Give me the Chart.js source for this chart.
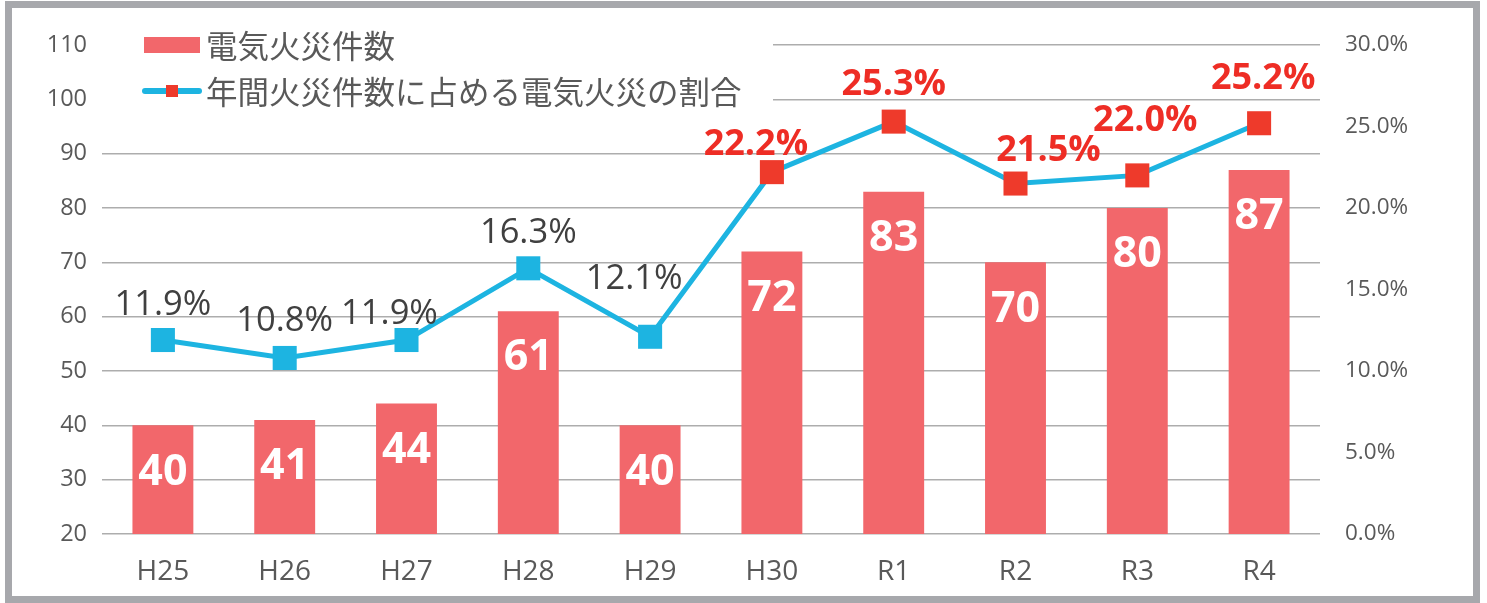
<!DOCTYPE html>
<html>
<head>
<meta charset="utf-8">
<script src="https://cdn.jsdelivr.net/npm/chart.js@4/dist/chart.umd.min.js"></script>
<style>
  html, body { margin: 0; padding: 0; background: #fff; }
  #frame { position: absolute; left: 5px; top: 1px; width: 1475px; height: 602px; border: 7px solid #A7A8AC; box-sizing: border-box; }
  #wrap { position: absolute; left: 0; top: 0; width: 1487px; height: 603px; }
</style>
</head>
<body>
<div id="frame"></div>
<div id="wrap"><canvas id="c" width="1487" height="603"></canvas></div>
<script>
const categories = ['H25', 'H26', 'H27', 'H28', 'H29', 'H30', 'R1', 'R2', 'R3', 'R4'];
const fireCounts = [40, 41, 44, 61, 40, 72, 83, 70, 80, 87];
const fireShare = [11.9, 10.8, 11.9, 16.3, 12.1, 22.2, 25.3, 21.5, 22.0, 25.2];
const barLabel = '電気火災件数';
const lineLabel = '年間火災件数に占める電気火災の割合';

const BAR_COLOR = '#F2676B';
const LINE_COLOR = '#1DB4E1';
const RED = '#EE3A2B';
const RED_TEXT = '#EE2D25';
const GREY_TEXT = '#595959';
const LATIN = '"Open Sans", "Noto Sans", sans-serif';
const CJK = '"Noto Sans CJK JP", "Noto Sans", sans-serif';
const highlightFrom = 5;
const pointColors = fireShare.map((v, i) => i >= highlightFrom ? RED : LINE_COLOR);
// label nudges relative to each point (style only)
const shareLabelNudge = [[0,-35],[0,-37],[-17,-26],[0,-35],[-16,-58],[-16,-27],[0,-37],[33,-33],[8,-55],[4,-44]];

const labelPlugin = {
  id: 'labels',
  afterDatasetsDraw(chart) {
    const ctx = chart.ctx;
    ctx.save();
    const barMeta = chart.getDatasetMeta(1);
    ctx.fillStyle = '#FFFFFF';
    ctx.font = 'bold 43px ' + LATIN;
    ctx.textAlign = 'center';
    ctx.textBaseline = 'middle';
    barMeta.data.forEach((el, i) => {
      ctx.fillText(String(fireCounts[i]), el.x, el.y + 47);
    });
    const lineMeta = chart.getDatasetMeta(0);
    lineMeta.data.forEach((el, i) => {
      const hl = i >= highlightFrom;
      ctx.fillStyle = hl ? RED_TEXT : '#404040';
      ctx.font = (hl ? 'bold 36px ' : '34.5px ') + LATIN;
      const n = shareLabelNudge[i];
      ctx.fillText(fireShare[i].toFixed(1) + '%', el.x + n[0], el.y + n[1]);
    });
    ctx.restore();
  },
  afterDraw(chart) {
    const ctx = chart.ctx;
    ctx.save();
    const a = chart.chartArea;
    ctx.fillStyle = '#FFFFFF';
    ctx.fillRect(a.left - 2, 22, 773 - a.left + 2, 92);
    ctx.fillStyle = BAR_COLOR;
    ctx.fillRect(144, 37, 56, 16);
    ctx.fillStyle = GREY_TEXT;
    ctx.font = '31.5px ' + CJK;
    ctx.textAlign = 'left';
    ctx.textBaseline = 'middle';
    ctx.fillText(chart.data.datasets[1].label, 206, 46);
    ctx.strokeStyle = LINE_COLOR;
    ctx.lineWidth = 6;
    ctx.lineCap = 'round';
    ctx.beginPath();
    ctx.moveTo(145, 91);
    ctx.lineTo(199, 91);
    ctx.stroke();
    ctx.fillStyle = RED;
    ctx.fillRect(166, 85, 12, 12);
    ctx.fillStyle = GREY_TEXT;
    ctx.fillText(chart.data.datasets[0].label, 206, 92);
    ctx.restore();
  }
};

new Chart(document.getElementById('c'), {
  data: {
    labels: categories,
    datasets: [
      {
        type: 'line',
        label: lineLabel,
        data: fireShare,
        yAxisID: 'yR',
        borderColor: LINE_COLOR,
        borderWidth: 5,
        tension: 0,
        pointStyle: 'rect',
        pointRadius: 17,
        pointHoverRadius: 17,
        pointBackgroundColor: pointColors,
        pointBorderColor: pointColors,
        pointBorderWidth: 0,
        order: 0
      },
      {
        type: 'bar',
        label: barLabel,
        data: fireCounts,
        yAxisID: 'yL',
        backgroundColor: BAR_COLOR,
        barPercentage: 0.5,
        categoryPercentage: 1.0,
        order: 1
      }
    ]
  },
  options: {
    responsive: false,
    animation: false,
    events: [],
    layout: { padding: { left: 0, right: 0, top: 45, bottom: 0 } },
    plugins: { legend: { display: false }, tooltip: { enabled: false } },
    scales: {
      x: {
        grid: { display: false, drawTicks: false },
        border: { display: false },
        ticks: { color: GREY_TEXT, font: { family: LATIN, size: 28 }, padding: 21 },
        afterFit(s) { s.height = 69; }
      },
      yL: {
        position: 'left',
        min: 20, max: 110,
        ticks: { stepSize: 10, color: GREY_TEXT, font: { family: LATIN, size: 23.5 }, padding: 15 },
        grid: { color: '#ADADAD', lineWidth: 1.4, drawTicks: false },
        border: { display: false },
        afterFit(s) { s.width = 102; }
      },
      yR: {
        position: 'right',
        min: 0, max: 30,
        ticks: { stepSize: 5, color: GREY_TEXT, font: { family: LATIN, size: 22.5 }, padding: 25,
                 callback: v => Number(v).toFixed(1) + '%' },
        grid: { display: false, drawTicks: false },
        border: { display: false },
        afterFit(s) { s.width = 167; }
      }
    }
  },
  plugins: [labelPlugin]
});
</script>
</body>
</html>
